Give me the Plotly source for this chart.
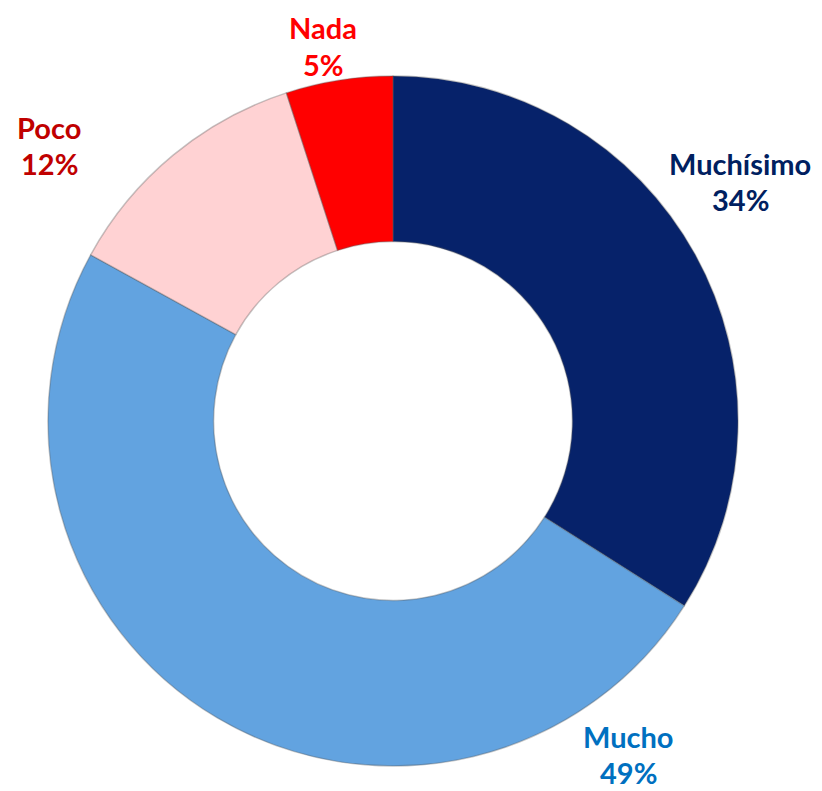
import plotly.graph_objects as go

categories = ["Muchísimo", "Mucho", "Poco", "Nada"]
values = [34, 49, 12, 5]
slice_colors = ["#06226A", "#62A3E0", "#FFD2D3", "#FF0000"]
label_colors = ["#002060", "#0070C0", "#C00000", "#FF0000"]

W, H = 822, 791
OFF = 8  # page body margin offset
cx, cy, R = 393 - OFF, 421 - OFF, 345  # pixel center / radius (figure coords)

fig = go.Figure(go.Pie(
    labels=categories,
    values=values,
    hole=0.52,
    sort=False,
    direction="clockwise",
    rotation=0,
    marker=dict(colors=slice_colors, line=dict(color="rgba(90,90,90,0.35)", width=1.5)),
    textinfo="none",
    hoverinfo="label+percent",
    showlegend=False,
    domain=dict(x=[(cx - R) / W, (cx + R) / W], y=[(H - cy - R) / H, (H - cy + R) / H]),
))

# label anchor positions (page pixels, top-left origin) for each category
label_pos = {"Muchísimo": (740, 181), "Mucho": (628, 754), "Poco": (49, 145), "Nada": (323, 46)}
LINE = 36
total = sum(values)
for cat, val, col in zip(categories, values, label_colors):
    x, y = label_pos[cat]
    x, y = x - OFF, y - OFF
    for txt, dy in ((cat, -LINE / 2), (f"{round(100 * val / total)}%", LINE / 2)):
        fig.add_annotation(
            x=x / W, y=1 - (y + dy) / H, xref="paper", yref="paper",
            text=f"<b>{txt}</b>",
            showarrow=False, xanchor="center", yanchor="middle", borderpad=0,
            font=dict(family="Lato, Open Sans, sans-serif", size=29, color=col),
        )

fig.update_layout(
    width=W, height=H,
    margin=dict(l=0, r=0, t=0, b=0),
    paper_bgcolor="white", plot_bgcolor="white",
)

fig.write_html("out.html")
